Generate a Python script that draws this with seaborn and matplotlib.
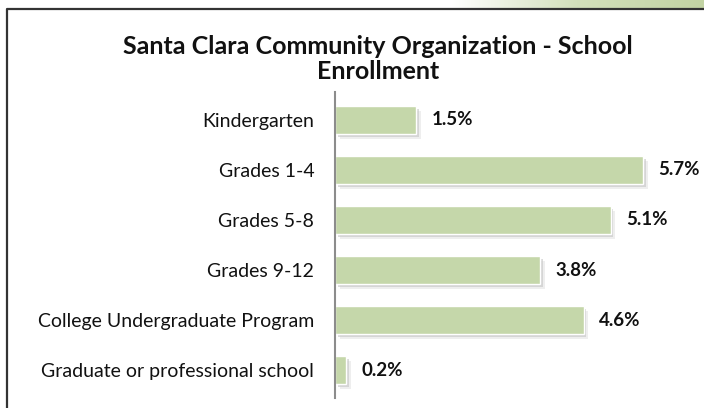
import numpy as np
import pandas as pd
import seaborn as sns
import matplotlib.pyplot as plt
import matplotlib.patheffects as pe
from matplotlib.lines import Line2D
from matplotlib.colors import LinearSegmentedColormap

# data
levels = ['Kindergarten', 'Grades 1-4', 'Grades 5-8', 'Grades 9-12',
          'College Undergraduate Program', 'Graduate or professional school']
pct = [1.5, 5.7, 5.1, 3.8, 4.6, 0.2]

df = pd.DataFrame({'level': levels, 'pct': pct})

sns.set_theme(style='white')
plt.rcParams['font.family'] = ['Lato', 'DejaVu Sans']

fig = plt.figure(figsize=(7.04, 4.08), dpi=100)
fig.patch.set_facecolor('white')

# green gradient strip on top right
strip = fig.add_axes([450 / 704, 1 - 8 / 408, 254 / 704, 8 / 408])
cmap = LinearSegmentedColormap.from_list('g', ['#ffffff', '#d3e0bb', '#c2d3a3'])
strip.imshow(np.linspace(0, 1, 256)[None, :], aspect='auto', cmap=cmap)
strip.axis('off')

# frame lines (left and top)
fig.add_artist(Line2D([7 / 704, 7 / 704, 1], [0, 1 - 9 / 408, 1 - 9 / 408],
                      transform=fig.transFigure, color='#333333', lw=1.6))

ax = fig.add_axes([335 / 704, 1 - 398 / 408, 362 / 704, 306 / 408])
sns.barplot(data=df, x='pct', y='level', orient='h', color='#c5d7aa',
            width=0.56, edgecolor='white', linewidth=1, saturation=1, ax=ax)

for p in ax.patches:
    p.set_path_effects([pe.SimplePatchShadow(offset=(2, -2), shadow_rgbFace='#b0b0b0', alpha=0.45),
                        pe.SimplePatchShadow(offset=(3.5, -3.5), shadow_rgbFace='#c8c8c8', alpha=0.3),
                        pe.Normal()])

ax.bar_label(ax.containers[0], labels=[f'{v:.1f}%' for v in pct], padding=11,
             fontsize=13.5, fontweight='bold', color='#111111')

ax.set_xlim(0, 6.70)
ax.set_ylim(5.56, -0.56)
ax.set_xlabel('')
ax.set_ylabel('')
ax.set_xticks([])
ax.tick_params(axis='y', length=0, pad=15, labelsize=14, labelcolor='#111111')
for s in ['top', 'right', 'bottom']:
    ax.spines[s].set_visible(False)
ax.spines['left'].set_color('#8c8c8c')
ax.spines['left'].set_linewidth(1.5)

fig.text(378 / 704, 1 - 59 / 408, 'Santa Clara Community Organization - School\nEnrollment',
         ha='center', va='center', fontsize=18, fontweight='bold', color='#111111',
         linespacing=1.1)

fig.savefig('out.png', dpi=100)
